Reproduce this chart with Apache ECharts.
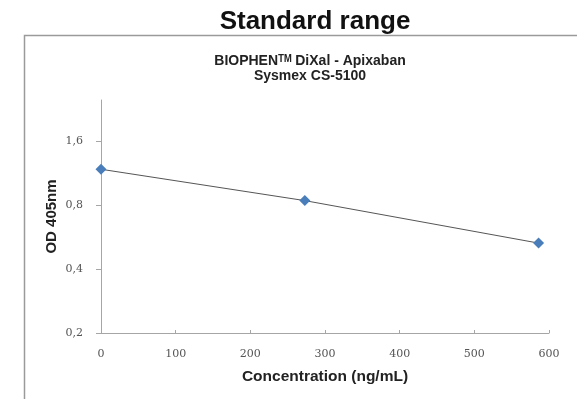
<!DOCTYPE html>
<html><head><meta charset="utf-8">
<script src="https://cdn.jsdelivr.net/npm/echarts@6/dist/echarts.min.js"></script>
<style>html,body{margin:0;padding:0;background:#fff}#c{width:577px;height:399px}</style>
</head><body><div id="c"></div>
<script>
const concentrations = [0, 273, 586];
const odValues = [1.18, 0.84, 0.53];
const xTicks = [0, 100, 200, 300, 400, 500, 600];
const yTicks = [0.2, 0.4, 0.8, 1.6];
const yTickLabels = ['0,2', '0,4', '0,8', '1,6'];

const chart = echarts.init(document.getElementById('c'));
const font = '"Liberation Sans", Arial, sans-serif';
const tickFont = '"DejaVu Serif", serif';
chart.setOption({
  animation: false,
  backgroundColor: '#fff',
  graphic: [
    {type: 'polyline', shape: {points: [[24.5, 399], [24.5, 35.5], [577, 35.5]]}, style: {stroke: '#9a9a9a', lineWidth: 1.5, fill: null}, silent: true}
  ],
  title: [
    {text: 'Standard range', left: 310, top: 4, textAlign: 'center',
     textStyle: {fontFamily: font, fontSize: 26, fontWeight: 'bold', color: '#111'}},
    {text: 'BIOPHEN\u1d40\u1d39 DiXal - Apixaban\nSysmex CS-5100', left: 305, top: 49, textAlign: 'center',
     textStyle: {fontFamily: font, fontSize: 14, fontWeight: 'bold', color: '#222', lineHeight: 14.5}}
  ],
  grid: {left: 101, right: 28, top: 100, bottom: 66, containLabel: false},
  xAxis: {
    type: 'value', min: xTicks[0], max: xTicks[xTicks.length - 1], interval: 100,
    name: 'Concentration (ng/mL)', nameLocation: 'middle', nameGap: 36, nameMoveOverlap: false,
    nameTextStyle: {fontFamily: font, fontSize: 15.5, fontWeight: 'bold', color: '#222'},
    axisLine: {lineStyle: {color: '#a6a6a6', width: 1}},
    axisTick: {show: true, inside: true, length: 3, lineStyle: {color: '#a6a6a6'}},
    splitLine: {show: false},
    axisLabel: {fontFamily: tickFont, fontSize: 11, color: '#555', margin: 16}
  },
  yAxis: {
    type: 'log', logBase: 2, min: yTicks[0], max: 2.5, interval: 1,
    name: 'OD 405nm', nameLocation: 'middle', nameGap: 42, nameRotate: 90, nameMoveOverlap: false,
    nameTextStyle: {fontFamily: font, fontSize: 15, fontWeight: 'bold', color: '#222'},
    axisLine: {show: true, lineStyle: {color: '#a6a6a6', width: 1}},
    axisTick: {show: true, length: 5, lineStyle: {color: '#a6a6a6'}},
    splitLine: {show: false},
    axisLabel: {fontFamily: tickFont, fontSize: 11, color: '#555', margin: 18, showMaxLabel: false,
      formatter: (v, idx) => yTickLabels[idx] !== undefined ? yTickLabels[idx] : ''}
  },
  series: [{
    type: 'line',
    data: concentrations.map((c, i) => [c, odValues[i]]),
    symbol: 'diamond', symbolSize: 11,
    itemStyle: {color: '#4a7ebb'},
    lineStyle: {color: '#555', width: 1}
  }]
});
</script></body></html>
